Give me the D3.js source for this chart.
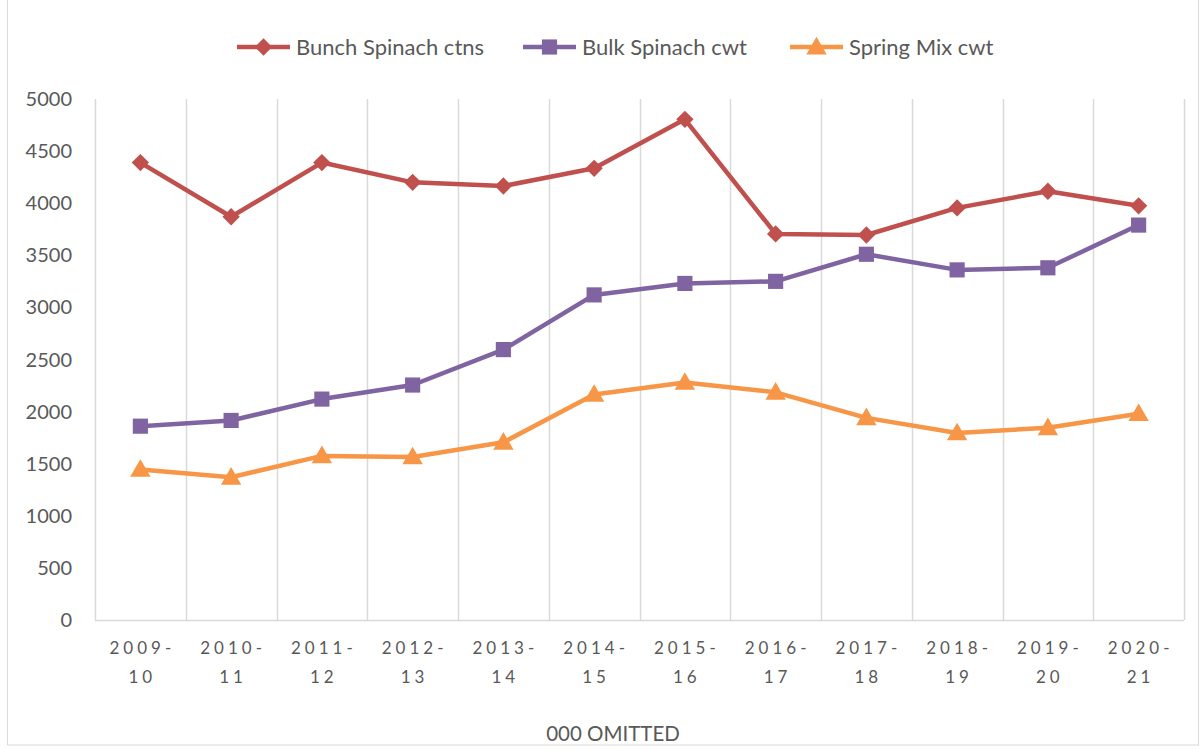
<!DOCTYPE html>
<html>
<head>
<meta charset="utf-8">
<script src="https://cdn.jsdelivr.net/npm/d3@7"></script>
<style>
  body { margin: 0; background: #fff; }
  text { font-family: Lato, "Open Sans", sans-serif; fill: #595959; }
</style>
</head>
<body>
<script>
// chart values (thousands)
var seasons = ["2009-10", "2010-11", "2011-12", "2012-13", "2013-14", "2014-15",
  "2015-16", "2016-17", "2017-18", "2018-19", "2019-20", "2020-21"];
var bunchSpinach = [4390, 3870, 4390, 4200, 4165, 4335, 4805, 3705, 3695, 3955, 4115, 3975];
var bulkSpinach = [1860, 1915, 2120, 2255, 2595, 3120, 3230, 3250, 3510, 3360, 3380, 3790];
var springMix = [1445, 1370, 1575, 1565, 1705, 2165, 2280, 2185, 1940, 1795, 1845, 1980];
var yTicks = [0, 500, 1000, 1500, 2000, 2500, 3000, 3500, 4000, 4500, 5000];

// diamond = square turned 45 degrees (excel style)
var series = [
  { name: "Bunch Spinach ctns", values: bunchSpinach, color: "#C0504D", marker: d3.symbolSquare, size: 150, rot: 45, dy: 0, lx: 237 },
  { name: "Bulk Spinach cwt", values: bulkSpinach, color: "#8064A2", marker: d3.symbolSquare, size: 230, rot: 0, dy: 0, lx: 523 },
  { name: "Spring Mix cwt", values: springMix, color: "#F79646", marker: d3.symbolTriangle, size: 180, rot: 0, dy: 1.5, lx: 790 }
];

var W = 1202, H = 749;
var svg = d3.select("body").append("svg")
    .attr("width", W)
    .attr("height", H);

// outer chart border
svg.append("rect")
    .attr("x", 7.5).attr("y", -1)
    .attr("width", 1191).attr("height", 746)
    .attr("fill", "none")
    .attr("stroke", "#D9D9D9");

var plotLeft = 95, plotRight = 1184, plotTop = 99, plotBottom = 620;

var x = d3.scaleBand().domain(seasons).range([plotLeft, plotRight]);
var y = d3.scaleLinear().domain([0, 5000]).range([plotBottom, plotTop]);

// vertical grid lines between categories
var edges = seasons.map(function (s) { return x(s); }).concat([plotRight]);
svg.selectAll("line.grid")
    .data(edges)
    .enter()
    .append("line")
    .attr("class", "grid")
    .attr("x1", function (d) { return Math.round(d) + 0.5; })
    .attr("x2", function (d) { return Math.round(d) + 0.5; })
    .attr("y1", plotTop)
    .attr("y2", plotBottom)
    .attr("stroke", "#D9D9D9")
    .attr("stroke-width", 1.5);

svg.append("line")
    .attr("x1", plotLeft).attr("x2", plotRight)
    .attr("y1", plotBottom + 0.5).attr("y2", plotBottom + 0.5)
    .attr("stroke", "#D9D9D9")
    .attr("stroke-width", 1.5);

// y axis labels
svg.selectAll("text.ytick")
    .data(yTicks)
    .enter()
    .append("text")
    .attr("class", "ytick")
    .attr("x", 72)
    .attr("y", function (d) { return y(d); })
    .attr("dy", "0.35em")
    .attr("text-anchor", "end")
    .style("font-size", "20px")
    .text(function (d) { return d; });

// x axis labels, split on two lines
var xl = svg.selectAll("text.xtick")
    .data(seasons)
    .enter()
    .append("text")
    .attr("class", "xtick")
    .attr("text-anchor", "middle")
    .style("font-size", "17px")
    .style("letter-spacing", "4px");
xl.append("tspan")
    .attr("x", function (d) { return x(d) + x.bandwidth() / 2 + 2; })
    .attr("y", 654)
    .text(function (d) { return d.split("-")[0] + "-"; });
xl.append("tspan")
    .attr("x", function (d) { return x(d) + x.bandwidth() / 2 + 2; })
    .attr("y", 683)
    .text(function (d) { return d.split("-")[1]; });

svg.append("text")
    .attr("x", 613)
    .attr("y", 741)
    .attr("text-anchor", "middle")
    .style("font-size", "20.5px")
    .text("000 OMITTED");

var line = d3.line()
    .x(function (d, i) { return x(seasons[i]) + x.bandwidth() / 2; })
    .y(function (d) { return y(d); });

series.forEach(function (s) {
  var sym = d3.symbol().type(s.marker).size(s.size);

  svg.append("path")
      .datum(s.values)
      .attr("d", line)
      .attr("fill", "none")
      .attr("stroke", s.color)
      .attr("stroke-width", 4.5)
      .attr("stroke-linejoin", "round");

  svg.selectAll(null)
      .data(s.values)
      .enter()
      .append("path")
      .attr("d", sym)
      .attr("transform", function (d, i) {
        return "translate(" + (x(seasons[i]) + x.bandwidth() / 2) + "," + (y(d) + s.dy) + ") rotate(" + s.rot + ")";
      })
      .attr("fill", s.color);

  // legend entry
  var g = svg.append("g").attr("transform", "translate(" + s.lx + ",47)");
  g.append("line")
      .attr("x1", 0).attr("x2", 53)
      .attr("stroke", s.color)
      .attr("stroke-width", 4.5);
  g.append("path")
      .attr("d", sym)
      .attr("transform", "translate(26.5," + s.dy + ") rotate(" + s.rot + ")")
      .attr("fill", s.color);
  g.append("text")
      .attr("x", 59)
      .attr("dy", "0.35em")
      .style("font-size", "22px")
      .text(s.name);
});
</script>
</body>
</html>
